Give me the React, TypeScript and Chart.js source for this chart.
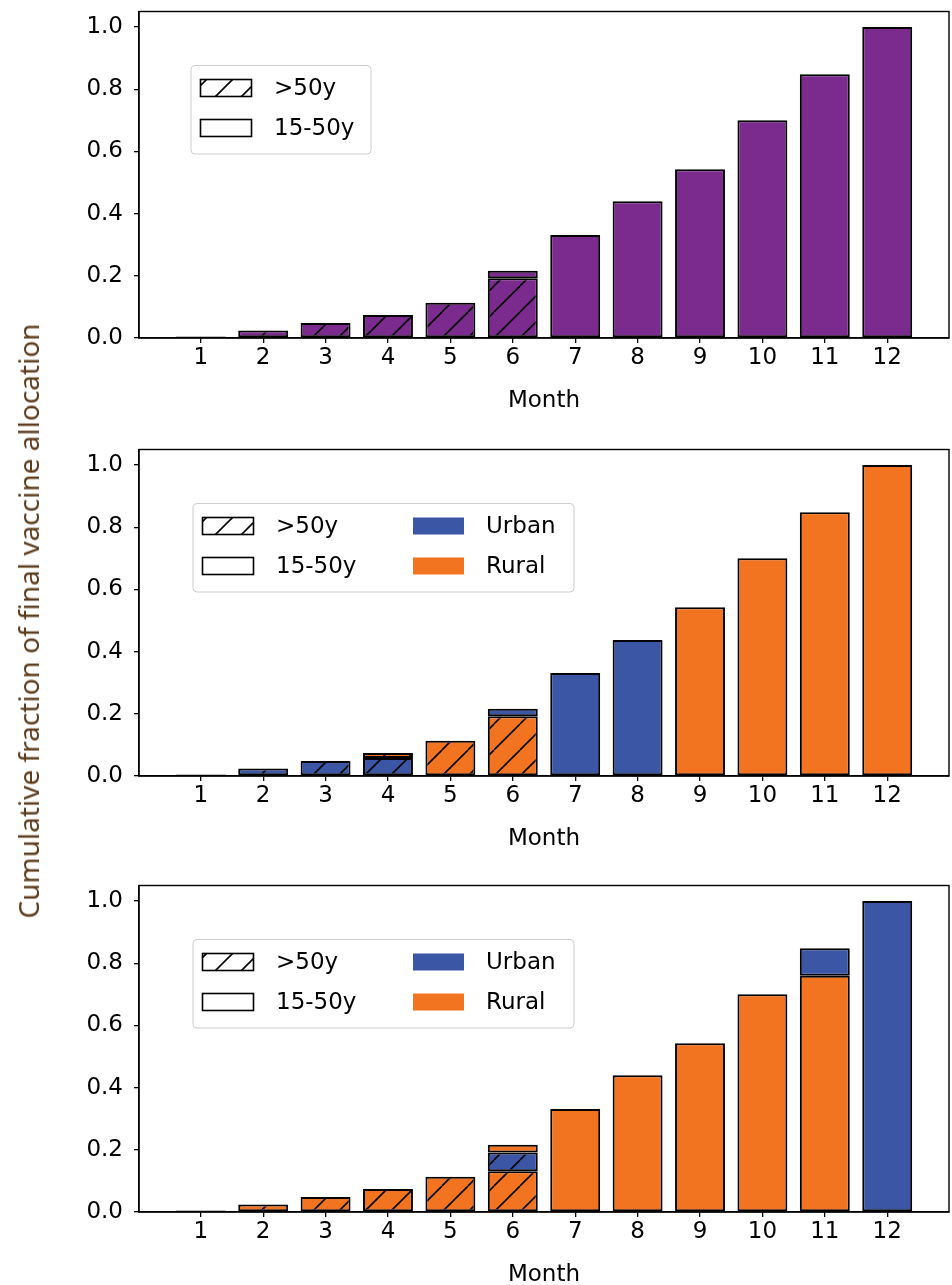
import React, { useEffect, useRef } from "react";
import { Chart, registerables } from "chart.js";

Chart.register(...registerables);

// ---------- data ----------
const months = [1, 2, 3, 4, 5, 6, 7, 8, 9, 10, 11, 12];
const yTicks = [0, 0.2, 0.4, 0.6, 0.8, 1.0];

// Panel 1 (single group)
const aOlder = [0.005, 0.024, 0.048, 0.074, 0.113, 0.192, null, null, null, null, null, null];
const aYounger = [null, null, null, null, null, 0.024, 0.331, 0.44, 0.543, 0.7, 0.848, 1.0];

// Panel 2 (urban first)
const bOlderUrban = [0.005, 0.024, 0.048, 0.058, null, null, null, null, null, null, null, null];
const bOlderRural = [null, null, null, 0.016, 0.113, 0.192, null, null, null, null, null, null];
const bYoungerUrban = [null, null, null, null, null, 0.024, 0.331, 0.437, null, null, null, null];
const bYoungerRural = [null, null, null, null, null, null, null, null, 0.543, 0.7, 0.848, 1.0];

// Panel 3 (rural first)
const cOlderRural = [0.005, 0.024, 0.048, 0.074, 0.113, 0.131, null, null, null, null, null, null];
const cOlderUrban = [null, null, null, null, null, 0.06, null, null, null, null, null, null];
const cYoungerRural = [null, null, null, null, null, 0.025, 0.331, 0.44, 0.543, 0.7, 0.76, null];
const cYoungerUrban = [null, null, null, null, null, null, null, null, null, null, 0.088, 1.0];

const PURPLE = "#7b2a8e";
const BLUE = "#3a56a5";
const ORANGE = "#f27421";

const yLabel = "Cumulative fraction of final vaccine allocation";
const xLabel = "Month";

const CANVAS_W = 952;
const CANVAS_H = 415;
const AREA_TOP = 11.5;
const AREA_BOTTOM = 338;
const AREA_LEFT = 139;
const AREA_RIGHT_PAD = 3;
const HATCH = 26;
const FONT = '"DejaVu Sans", sans-serif';

type Seg = { label: string; data: (number | null)[]; color: string; hatch: boolean };
type LegendItem = { label: string; color: string; hatch: boolean; edge: boolean; col: number; row: number };

function makeHatch(ctx: CanvasRenderingContext2D, color: string) {
  const tile = document.createElement("canvas");
  tile.width = HATCH;
  tile.height = HATCH;
  const t = tile.getContext("2d")!;
  t.fillStyle = color;
  t.fillRect(0, 0, HATCH, HATCH);
  t.strokeStyle = "#000";
  t.lineWidth = 1.6;
  for (const o of [-HATCH, 0, HATCH]) {
    t.beginPath();
    t.moveTo(o, HATCH);
    t.lineTo(o + HATCH, 0);
    t.stroke();
  }
  return ctx.createPattern(tile, "repeat")!;
}

const framePlugin = {
  id: "frameBox",
  afterDraw(chart: any) {
    const { ctx, chartArea: a } = chart;
    ctx.save();
    ctx.strokeStyle = "#000";
    ctx.lineWidth = 1.4;
    ctx.strokeRect(a.left, a.top, a.right - a.left, a.bottom - a.top);
    ctx.restore();
  },
};

const legendPlugin = {
  id: "boxLegend",
  afterDraw(chart: any, _args: any, opts: any) {
    if (!opts || !opts.items) return;
    const ctx: CanvasRenderingContext2D = chart.ctx;
    const L = opts.left;
    const T = 65.5;
    const W = opts.width;
    const H = 88.5;
    ctx.save();
    ctx.beginPath();
    (ctx as any).roundRect(L, T, W, H, 4);
    ctx.fillStyle = "rgba(255,255,255,0.8)";
    ctx.fill();
    ctx.strokeStyle = "#cccccc";
    ctx.lineWidth = 1;
    ctx.stroke();
    const rowY = [T + 22.5, T + 62.5];
    const patchX = [L + 9.5, L + 220];
    const textX = [L + 83, L + 293];
    ctx.font = "23px " + FONT;
    ctx.textBaseline = "middle";
    ctx.textAlign = "left";
    for (const it of opts.items as LegendItem[]) {
      const px = patchX[it.col];
      const py = rowY[it.row] - 8.5;
      const pw = 51;
      const ph = 17;
      ctx.fillStyle = it.hatch ? makeHatch(ctx, it.color) : it.color;
      ctx.fillRect(px, py, pw, ph);
      if (it.edge) {
        ctx.strokeStyle = "#000";
        ctx.lineWidth = 1.6;
        ctx.strokeRect(px, py, pw, ph);
      }
      ctx.fillStyle = "#000";
      ctx.fillText(it.label, textX[it.col], rowY[it.row] + 1);
    }
    ctx.restore();
  },
};

function Panel(props: { top: number; segs: Seg[]; legend: LegendItem[]; legendLeft: number; legendWidth: number }) {
  const ref = useRef<HTMLCanvasElement | null>(null);
  useEffect(() => {
    const canvas = ref.current!;
    const ctx = canvas.getContext("2d")!;
    const axisFont = { family: FONT, size: 23 };
    const chart = new Chart(canvas, {
      type: "bar",
      data: {
        labels: months,
        datasets: props.segs.map((s) => ({
          label: s.label,
          data: s.data,
          backgroundColor: s.hatch ? makeHatch(ctx, s.color) : s.color,
          borderColor: "#000",
          borderWidth: 2,
          borderSkipped: false,
          barPercentage: 0.8,
          categoryPercentage: 1.0,
        })),
      },
      options: {
        animation: false,
        responsive: false,
        devicePixelRatio: 1,
        layout: { padding: { top: AREA_TOP, right: AREA_RIGHT_PAD, left: 0, bottom: 0 } },
        plugins: {
          legend: { display: false },
          tooltip: { enabled: false },
          boxLegend: { items: props.legend, left: props.legendLeft, width: props.legendWidth },
        } as any,
        scales: {
          x: {
            type: "linear",
            min: 0.01,
            max: 12.99,
            stacked: true,
            offset: false,
            afterBuildTicks: (s: any) => {
              s.ticks = months.map((v) => ({ value: v }));
            },
            afterFit: (s: any) => {
              s.height = CANVAS_H - AREA_BOTTOM;
            },
            grid: {
              display: true,
              offset: false,
              drawOnChartArea: false,
              drawTicks: true,
              tickLength: 5,
              color: "#000",
              lineWidth: 1.3,
            },
            border: { display: true, color: "#000", width: 1.4 },
            ticks: {
              color: "#000",
              font: axisFont,
              padding: 1,
              maxRotation: 0,
              autoSkip: false,
              callback: (v: any) => String(v),
            },
            title: { display: true, text: xLabel, color: "#000", font: axisFont, padding: 0 },
          },
          y: {
            min: 0,
            max: 1.05,
            stacked: true,
            afterBuildTicks: (s: any) => {
              s.ticks = yTicks.map((v) => ({ value: v }));
            },
            afterFit: (s: any) => {
              s.width = AREA_LEFT;
            },
            grid: { display: true, drawOnChartArea: false, drawTicks: true, tickLength: 5, color: "#000", lineWidth: 1.3 },
            border: { display: true, color: "#000", width: 1.4 },
            ticks: {
              color: "#000",
              font: { family: FONT, size: 23, lineHeight: 0.02 },
              padding: 11,
              callback: (v: any) => Number(v).toFixed(1),
            },
          },
        },
      } as any,
      plugins: [framePlugin, legendPlugin],
    });
    return () => chart.destroy();
  }, []);
  return (
    <canvas
      ref={ref}
      width={CANVAS_W}
      height={CANVAS_H}
      style={{ position: "absolute", left: 0, top: props.top, width: CANVAS_W, height: CANVAS_H }}
    />
  );
}

const ageLegend: LegendItem[] = [
  { label: ">50y", color: "#ffffff", hatch: true, edge: true, col: 0, row: 0 },
  { label: "15-50y", color: "#ffffff", hatch: false, edge: true, col: 0, row: 1 },
];
const fullLegend: LegendItem[] = [
  ...ageLegend,
  { label: "Urban", color: BLUE, hatch: false, edge: false, col: 1, row: 0 },
  { label: "Rural", color: ORANGE, hatch: false, edge: false, col: 1, row: 1 },
];

export default function App() {
  const segsA: Seg[] = [
    { label: ">50y", data: aOlder, color: PURPLE, hatch: true },
    { label: "15-50y", data: aYounger, color: PURPLE, hatch: false },
  ];
  const segsB: Seg[] = [
    { label: ">50y Urban", data: bOlderUrban, color: BLUE, hatch: true },
    { label: ">50y Rural", data: bOlderRural, color: ORANGE, hatch: true },
    { label: "15-50y Urban", data: bYoungerUrban, color: BLUE, hatch: false },
    { label: "15-50y Rural", data: bYoungerRural, color: ORANGE, hatch: false },
  ];
  const segsC: Seg[] = [
    { label: ">50y Rural", data: cOlderRural, color: ORANGE, hatch: true },
    { label: ">50y Urban", data: cOlderUrban, color: BLUE, hatch: true },
    { label: "15-50y Rural", data: cYoungerRural, color: ORANGE, hatch: false },
    { label: "15-50y Urban", data: cYoungerUrban, color: BLUE, hatch: false },
  ];
  return (
    <div
      style={{
        position: "absolute",
        left: 0,
        top: 0,
        width: 952,
        height: 1285,
        overflow: "hidden",
        background: "#fff",
      }}
    >
      <Panel top={0} segs={segsA} legend={ageLegend} legendLeft={191} legendWidth={180} />
      <Panel top={437.5} segs={segsB} legend={fullLegend} legendLeft={193} legendWidth={381} />
      <Panel top={873.5} segs={segsC} legend={fullLegend} legendLeft={193} legendWidth={381} />
      <div
        style={{
          position: "absolute",
          left: 28,
          top: 621,
          transform: "translate(-50%, -50%) rotate(-90deg)",
          whiteSpace: "nowrap",
          fontFamily: '"Noto Sans", sans-serif',
          fontSize: 28,
          color: "#5e3d1f",
          lineHeight: 1,
        }}
      >
        {yLabel}
      </div>
    </div>
  );
}
